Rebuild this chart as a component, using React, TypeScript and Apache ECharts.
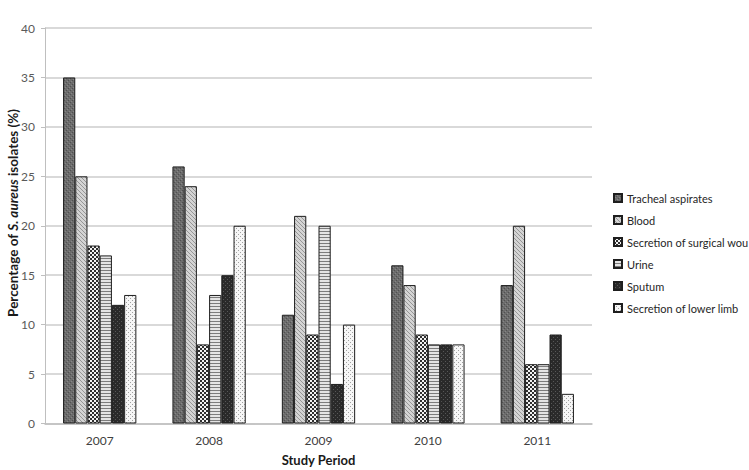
import React, { useEffect, useRef } from "react";
import * as echarts from "echarts";

const years = ["2007", "2008", "2009", "2010", "2011"];
const seriesNames = [
  "Tracheal aspirates",
  "Blood",
  "Secretion of surgical wound",
  "Urine",
  "Sputum",
  "Secretion of lower limb",
];
const trachealAspirates = [35, 26, 11, 16, 14];
const blood = [25, 24, 21, 14, 20];
const surgicalWound = [18, 8, 9, 9, 6];
const urine = [17, 13, 20, 8, 6];
const sputum = [12, 15, 4, 8, 9];
const lowerLimb = [13, 20, 10, 8, 3];
const yTicks = { min: 0, max: 40, interval: 5 };

type Tile = { w: number; h: number; bg: string; px: [number, number, string][] };

function makeTile(t: Tile): HTMLCanvasElement {
  const c = document.createElement("canvas");
  c.width = t.w;
  c.height = t.h;
  const ctx = c.getContext("2d")!;
  ctx.fillStyle = t.bg;
  ctx.fillRect(0, 0, t.w, t.h);
  for (const [x, y, col] of t.px) {
    ctx.fillStyle = col;
    ctx.fillRect(x, y, 1, 1);
  }
  return c;
}

function patterns() {
  const tiles: Tile[] = [
    {
      w: 4,
      h: 4,
      bg: "#6c6c6c",
      px: [
        [0, 0, "#505050"],
        [2, 2, "#505050"],
        [1, 3, "#868686"],
        [3, 1, "#868686"],
      ],
    },
    {
      w: 4,
      h: 4,
      bg: "#d4d4d4",
      px: [
        [0, 0, "#969696"],
        [1, 1, "#969696"],
        [2, 2, "#969696"],
        [3, 3, "#969696"],
      ],
    },
    {
      w: 4,
      h: 4,
      bg: "#f2f2f2",
      px: [
        [0, 0, "#2e2e2e"],
        [1, 0, "#2e2e2e"],
        [0, 1, "#2e2e2e"],
        [1, 1, "#2e2e2e"],
        [2, 2, "#2e2e2e"],
        [3, 2, "#2e2e2e"],
        [2, 3, "#2e2e2e"],
        [3, 3, "#2e2e2e"],
      ],
    },
    {
      w: 4,
      h: 3,
      bg: "#e4e4e4",
      px: [
        [0, 0, "#7c7c7c"],
        [1, 0, "#7c7c7c"],
        [2, 0, "#7c7c7c"],
        [3, 0, "#7c7c7c"],
      ],
    },
    {
      w: 4,
      h: 4,
      bg: "#2a2a2a",
      px: [
        [1, 1, "#575757"],
        [3, 3, "#575757"],
      ],
    },
    {
      w: 4,
      h: 4,
      bg: "#f6f6f6",
      px: [
        [0, 0, "#a0a0a0"],
        [2, 2, "#a0a0a0"],
      ],
    },
  ];
  return tiles.map((t) => ({ image: makeTile(t), repeat: "repeat" as const }));
}

export default function App() {
  const ref = useRef<HTMLDivElement>(null);
  useEffect(() => {
    if (!ref.current) return;
    const chart = echarts.init(ref.current, null, { renderer: "svg" });
    const pats = patterns();
    const data = [trachealAspirates, blood, surgicalWound, urine, sputum, lowerLimb];
    const font = "Lato, 'Open Sans', sans-serif";
    chart.setOption({
      animation: false,
      textStyle: { fontFamily: font },
      grid: { left: 45, right: 157, top: 28, bottom: 46.5, containLabel: false },
      legend: {
        orient: "vertical",
        left: 608,
        top: 186,
        icon: "rect",
        itemWidth: 8,
        itemHeight: 8,
        itemGap: 8,
        textStyle: {
          fontSize: 11,
          color: "#262626",
          lineHeight: 14,
          fontFamily: font,
          width: 128,
          overflow: "truncate",
          ellipsis: "",
        },
        data: seriesNames,
      },
      xAxis: {
        type: "category",
        data: years,
        axisLine: { show: true, lineStyle: { color: "#bfbfbf", width: 1.5 } },
        axisTick: { show: false },
        axisLabel: { color: "#404040", fontSize: 12, margin: 11, fontFamily: font },
      },
      yAxis: {
        type: "value",
        min: yTicks.min,
        max: yTicks.max,
        interval: yTicks.interval,
        axisLine: { show: true, lineStyle: { color: "#bfbfbf", width: 1 } },
        axisTick: { show: true, length: 4, lineStyle: { color: "#bfbfbf" } },
        axisLabel: { color: "#595959", fontSize: 12, margin: 10, fontFamily: font },
        splitLine: { show: true, lineStyle: { color: "#cdcdcd", width: 1.5 } },
      },
      graphic: [
        {
          type: "text",
          x: 13,
          y: 213,
          rotation: Math.PI / 2,
          style: {
            text: "{b|Percentage of }{i|S. aureus}{b| isolates (%)}",
            align: "center",
            verticalAlign: "middle",
            rich: {
              b: { fontSize: 13.5, fontWeight: "bold", fill: "#1a1a1a", fontFamily: font },
              i: {
                fontSize: 13.5,
                fontWeight: "bold",
                fontStyle: "italic",
                fill: "#1a1a1a",
                fontFamily: font,
              },
            },
          },
        },
        {
          type: "text",
          x: 318.5,
          y: 460,
          style: {
            text: "Study Period",
            align: "center",
            verticalAlign: "middle",
            fontSize: 13,
            fontWeight: "bold",
            fill: "#1a1a1a",
            fontFamily: font,
          },
        },
      ],
      series: seriesNames.map((name, i) => ({
        name,
        type: "bar",
        data: data[i],
        barGap: "0%",
        barCategoryGap: "33%",
        itemStyle: { color: pats[i], borderColor: "#1e1e1e", borderWidth: 1 },
      })),
    });
    return () => chart.dispose();
  }, []);
  return (
    <div
      ref={ref}
      style={{ width: 749, height: 470, position: "fixed", left: 0, top: 0, background: "#fff" }}
    />
  );
}
